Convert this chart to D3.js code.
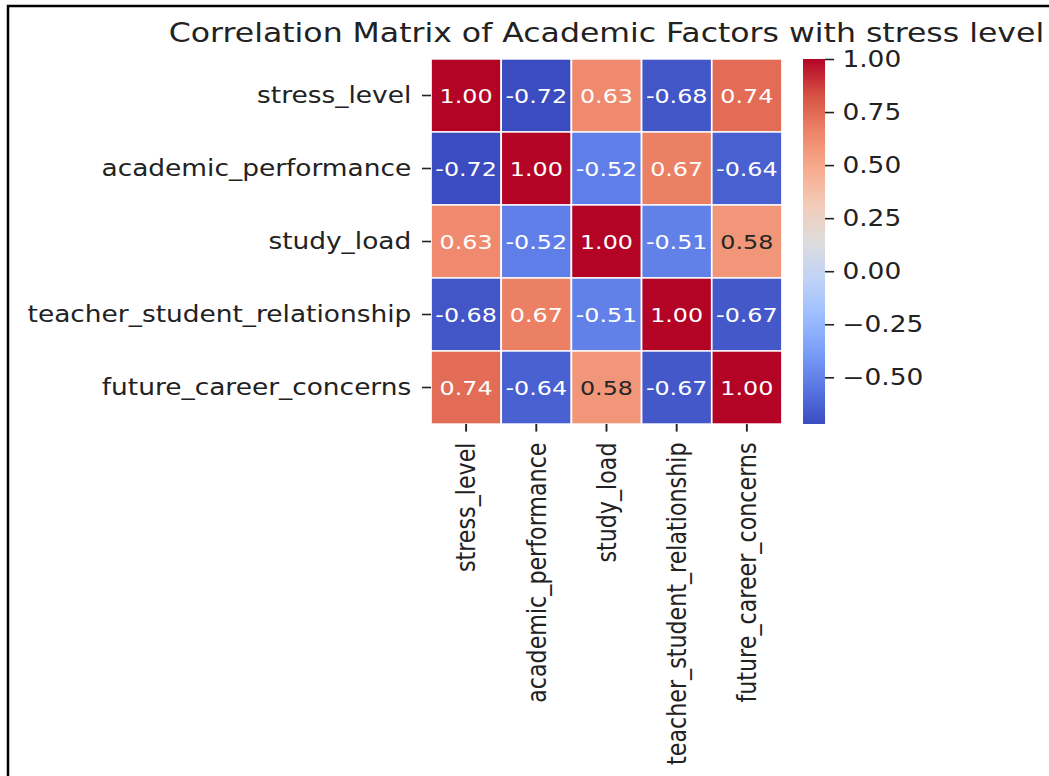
<!DOCTYPE html>
<html lang="en">
<head>
  <meta charset="UTF-8" />
  <title>Correlation Matrix of Academic Factors with stress level</title>
  <style>
    body {
      margin: 0;
      background: #fff;
      font-family: 'DejaVu Sans', sans-serif;
    }
    svg { display: block; }
  </style>
</head>
<body>
  <div id="chart"></div>

  <script src="https://d3js.org/d3.v7.min.js"></script>
  <script>
    const factors = ["stress_level", "academic_performance", "study_load",
                     "teacher_student_relationship", "future_career_concerns"];
    const corr = [
      [ 1.00, -0.72,  0.63, -0.68,  0.74],
      [-0.72,  1.00, -0.52,  0.67, -0.64],
      [ 0.63, -0.52,  1.00, -0.51,  0.58],
      [-0.68,  0.67, -0.51,  1.00, -0.67],
      [ 0.74, -0.64,  0.58, -0.67,  1.00]
    ];
    const cbarTicks = [1.00, 0.75, 0.50, 0.25, 0.00, -0.25, -0.50];
    // matplotlib coolwarm, 11 samples
    const coolwarm = ["#3b4cc0", "#5977e3", "#7b9ff9", "#9ebeff", "#c0d4f5", "#dddcdc",
                      "#f2cbb7", "#f7ac8e", "#ee8468", "#d65244", "#b40426"];

    const width = 1049, height = 776;
    const sx = 1.19;   // the picture is stretched sideways

    const svg = d3.select("#chart").append("svg")
      .attr("width", width)
      .attr("height", height);

    // frame round the screenshot
    svg.append("path")
      .attr("d", `M8,${height} V6 H${width}`)
      .attr("fill", "none")
      .attr("stroke", "#000")
      .attr("stroke-width", 2.5);

    const g = svg.append("g").attr("transform", `scale(${sx},1)`);

    const x = d3.scaleBand().domain(factors).range([362.2, 657.1]);
    const y = d3.scaleBand().domain(factors).range([59, 424]);

    const vmin = d3.min(corr.flat()), vmax = d3.max(corr.flat());
    const color = d3.scaleSequential(d3.piecewise(d3.interpolateRgb, coolwarm))
      .domain([vmin, vmax]);

    function textColor(c) {
      const rgb = d3.rgb(c);
      const lin = v => { v /= 255; return v <= 0.03928 ? v / 12.92 : Math.pow((v + 0.055) / 1.055, 2.4); };
      const lum = 0.2126 * lin(rgb.r) + 0.7152 * lin(rgb.g) + 0.0722 * lin(rgb.b);
      return lum > 0.408 ? "#262626" : "#fff";
    }

    const cells = [];
    corr.forEach((row, i) => row.forEach((v, j) => cells.push({ r: factors[i], c: factors[j], v })));

    g.selectAll(".cell")
      .data(cells)
      .enter()
      .append("rect")
      .attr("class", "cell")
      .attr("x", d => x(d.c))
      .attr("y", d => y(d.r))
      .attr("width", x.bandwidth())
      .attr("height", y.bandwidth())
      .attr("fill", d => color(d.v))
      .attr("stroke", "#fff")
      .attr("stroke-width", 1.4);

    g.selectAll(".annot")
      .data(cells)
      .enter()
      .append("text")
      .attr("class", "annot")
      .attr("x", d => x(d.c) + x.bandwidth() / 2)
      .attr("y", d => y(d.r) + y.bandwidth() / 2)
      .attr("dy", "0.36em")
      .attr("text-anchor", "middle")
      .style("font-size", "20px")
      .style("fill", d => textColor(color(d.v)))
      .text(d => d.v.toFixed(2));

    const tickStyle = sel => {
      sel.select(".domain").remove();
      sel.selectAll(".tick line").attr("stroke", "#222").attr("stroke-width", 1.6);
      sel.selectAll(".tick text").style("font-size", "22.2px").style("fill", "#222")
        .style("font-family", "'DejaVu Sans', sans-serif");
    };

    g.append("g")
      .attr("transform", `translate(${x.range()[0]},0)`)
      .call(d3.axisLeft(y).tickSize(7.6).tickPadding(9))
      .call(tickStyle);

    const xAxis = g.append("g")
      .attr("transform", `translate(0,${y.range()[1]})`)
      .call(d3.axisBottom(x).tickSize(7.6).tickPadding(7.6))
      .call(tickStyle);
    xAxis.selectAll(".tick text")
      .attr("transform", "rotate(-90)")
      .attr("text-anchor", "end")
      .attr("x", -18.5)
      .attr("y", 0)
      .attr("dy", "0.35em");

    // colour bar
    const cbX = 674.8, cbW = 18.5;
    const cbY = d3.scaleLinear().domain([vmin, vmax]).range([424, 59]);
    const grad = svg.append("defs").append("linearGradient")
      .attr("id", "cbar")
      .attr("x1", 0).attr("y1", 1).attr("x2", 0).attr("y2", 0);
    d3.range(0, 1.0001, 0.05).forEach(t => {
      grad.append("stop")
        .attr("offset", t)
        .attr("stop-color", color(vmin + t * (vmax - vmin)));
    });
    g.append("rect")
      .attr("x", cbX)
      .attr("y", cbY(vmax))
      .attr("width", cbW)
      .attr("height", cbY(vmin) - cbY(vmax))
      .attr("fill", "url(#cbar)");

    g.append("g")
      .attr("transform", `translate(${cbX + cbW},0)`)
      .call(d3.axisRight(cbY).tickValues(cbarTicks).tickFormat(d3.format(".2f")).tickSize(7.6).tickPadding(7))
      .call(tickStyle);

    g.append("text")
      .attr("x", (x.range()[0] + x.range()[1]) / 2)
      .attr("y", 42)
      .attr("text-anchor", "middle")
      .style("font-size", "26.5px")
      .style("fill", "#222")
      .text("Correlation Matrix of Academic Factors with stress level");
  </script>
</body>
</html>
